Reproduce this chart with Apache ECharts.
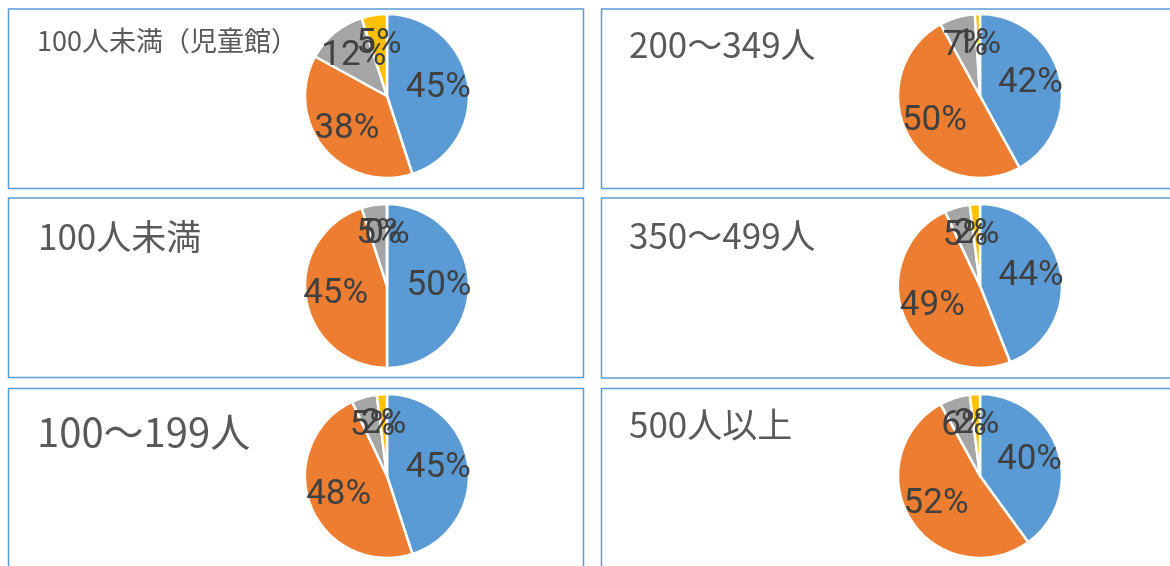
<!DOCTYPE html>
<html>
<head>
<meta charset="utf-8">
<script src="https://cdn.jsdelivr.net/npm/echarts@6/dist/echarts.min.js"></script>
<style>
  html, body { margin: 0; padding: 0; background: #fff; }
  #chart { width: 1170px; height: 566px; }
</style>
</head>
<body>
<div id="chart"></div>
<script>
// panel order: left column top->bottom, then right column top->bottom
const panelTitles = ["100人未満（児童館）", "100人未満", "100～199人", "200～349人", "350～499人", "500人以上"];
const sliceNames = ["A", "B", "C", "D"];
const blueValues = [45, 50, 45, 42, 44, 40];
const orangeValues = [38, 45, 48, 50, 49, 52];
const grayValues = [12, 5, 5, 7, 5, 6];
const yellowValues = [5, 0, 2, 1, 2, 2];

const sliceColors = ["#5B9BD5", "#ED7D31", "#A5A5A5", "#FFC000"];

// layout of the six boxes
const boxes = [
  { x: 8.5, y: 9, w: 575, h: 179.5 },
  { x: 8.5, y: 198, w: 575, h: 179.5 },
  { x: 8.5, y: 388.5, w: 575, h: 190 },
  { x: 601.5, y: 9, w: 580, h: 179.5 },
  { x: 601.5, y: 198, w: 580, h: 180 },
  { x: 601.5, y: 388.5, w: 580, h: 190 }
];
const pieCenters = [[387, 96], [387, 286], [387, 476], [980, 96], [980, 286], [980, 476]];
const titlePos = [
  { left: 37, top: 27, size: 27 },
  { left: 38, top: 219, size: 35 },
  { left: 37, top: 412, size: 40 },
  { left: 629, top: 27, size: 35 },
  { left: 629, top: 218, size: 35 },
  { left: 629, top: 407, size: 35 }
];

const chart = echarts.init(document.getElementById("chart"));

const pieData = (i, colored) => [blueValues[i], orangeValues[i], grayValues[i], yellowValues[i]].map((v, k) => ({
  name: sliceNames[k],
  value: v,
  itemStyle: { color: colored ? sliceColors[k] : "rgba(0,0,0,0)" }
}));

const series = [];
panelTitles.forEach((t, i) => {
  // visible pie
  series.push({
    type: "pie",
    center: pieCenters[i],
    radius: [0, 82],
    startAngle: 90,
    clockwise: true,
    animation: false,
    silent: true,
    avoidLabelOverlap: false,
    itemStyle: { borderColor: "#fff", borderWidth: 2.5 },
    label: { show: false },
    labelLine: { show: false },
    data: pieData(i, true)
  });
  // transparent ring that only carries the labels a bit further out
  series.push({
    type: "pie",
    center: pieCenters[i],
    radius: [16, 82],
    startAngle: 90,
    clockwise: true,
    animation: false,
    silent: true,
    avoidLabelOverlap: false,
    minShowLabelAngle: 0,
    z: 5,
    itemStyle: { borderWidth: 0 },
    label: {
      show: true,
      position: "inside",
      formatter: "{c}%",
      color: "#404040",
      fontSize: 35,
      fontFamily: "Liberation Sans Narrow, Roboto, sans-serif"
    },
    labelLayout: { hideOverlap: false },
    labelLine: { show: false },
    data: pieData(i, false)
  });
});

chart.setOption({
  backgroundColor: "#fff",
  title: panelTitles.map((t, i) => ({
    text: t,
    left: titlePos[i].left,
    top: titlePos[i].top,
    padding: 0,
    textStyle: {
      fontFamily: "Noto Sans CJK JP",
      fontWeight: "normal",
      fontSize: titlePos[i].size,
      color: "#595959"
    }
  })),
  graphic: boxes.map(b => ({
    type: "rect",
    shape: { x: b.x, y: b.y, width: b.w, height: b.h },
    style: { fill: null, stroke: "#5B9BD5", lineWidth: 1.5 },
    z: -1
  })),
  series: series
});
</script>
</body>
</html>
